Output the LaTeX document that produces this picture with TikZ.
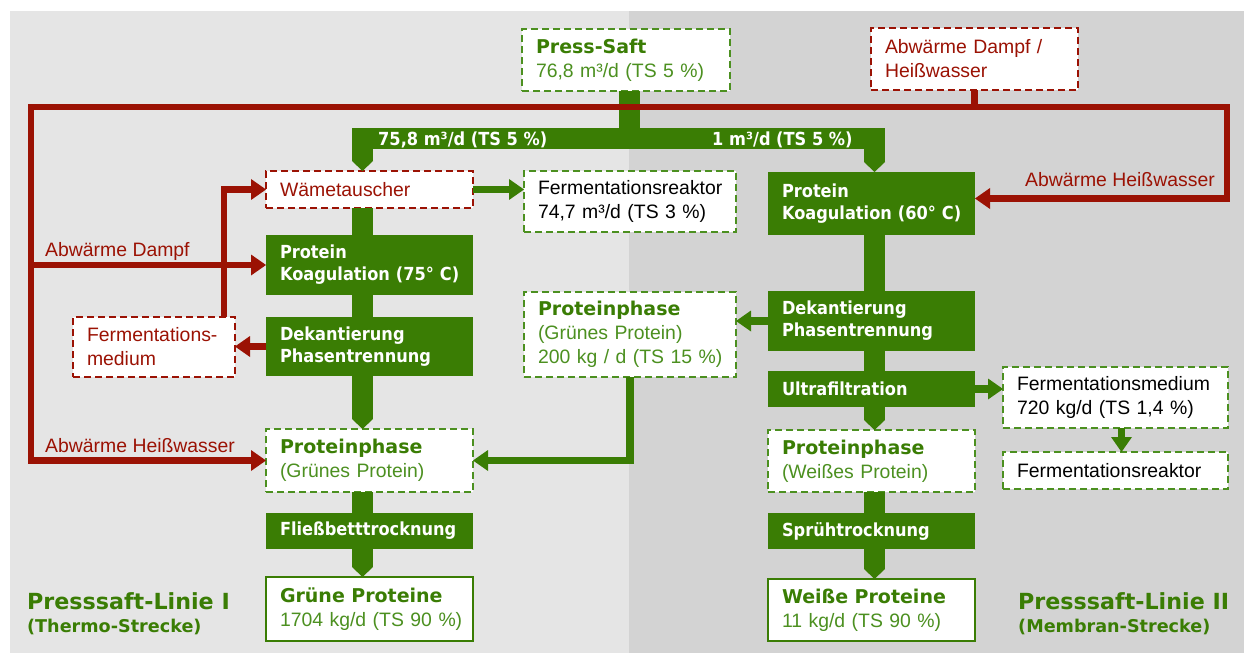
\documentclass[tikz,border=0pt]{standalone}
\usepackage{fontspec}
\setmainfont{Liberation Sans}
\newfontfamily\dejavu{DejaVu Sans}
\newfontfamily\dejavunarrow{DejaVu Sans}[FakeStretch=0.9]
\usetikzlibrary{arrows.meta}

\definecolor{procgreen}{HTML}{3A7D04}
\definecolor{textgreen}{HTML}{4C9020}
\definecolor{heatred}{HTML}{9B1204}
\definecolor{panelleft}{HTML}{E5E5E5}
\definecolor{panelright}{HTML}{D3D3D3}

\newcommand{\procfont}{\dejavunarrow\bfseries\fontsize{18}{22}\selectfont}
\newcommand{\headfont}{\dejavu\bfseries\fontsize{19}{24}\selectfont}
\newcommand{\plainfont}{\fontsize{19.4}{24}\selectfont}
\hyphenpenalty=10000

\tikzset{
  box/.style={anchor=north west, inner xsep=4pt, inner ysep=0pt, outer sep=0pt,
    align=left, execute at begin node={\leftskip=10pt\relax}},
  boxsize/.style 2 args={minimum width=#1, minimum height=#2, text width=#1-8},
  procbox/.style={box, fill=procgreen, text=white, font=\procfont},
  flowbox/.style={box, fill=white, draw=textgreen, line width=2.5pt,
    dash pattern=on 7pt off 4pt, font=\plainfont},
  greenbox/.style={flowbox, text=textgreen},
  heatbox/.style={box, fill=white, draw=heatred, line width=2.5pt,
    dash pattern=on 7pt off 4pt, text=heatred, font=\plainfont},
  endbox/.style={box, fill=white, draw=procgreen, line width=2.5pt,
    text=textgreen, font=\plainfont},
  shaft/.style={draw=procgreen, line width=21pt},
  shafttip/.style={-{Triangle[length=10pt, width=21pt, line width=0pt]}},
  thinflow/.style={draw=procgreen, line width=7.5pt,
    -{Triangle[length=15pt, width=21pt, line width=0pt]}},
  heatline/.style={draw=heatred, line width=6.5pt},
  heattip/.style={-{Triangle[length=15pt, width=21pt, line width=0pt]}},
  barlabel/.style={font=\procfont, text=white, inner sep=0pt, anchor=base west},
  heatlabel/.style={font=\plainfont, text=heatred, inner sep=0pt},
  linetitle/.style={font=\dejavu\bfseries\fontsize{22.2}{26}\selectfont,
    text=procgreen, inner sep=0pt, anchor=base west},
  subtitle/.style={font=\dejavu\bfseries\fontsize{17.6}{22}\selectfont,
    text=procgreen, inner sep=0pt, anchor=base west}
}

\begin{document}
\begin{tikzpicture}[x=1pt, y=-1pt]
    % Background panels of the two lines
    \fill[white] (0,0) rectangle (1244,655);
    \fill[panelleft] (10,11) rectangle (629,653);
    \fill[panelright] (629,11) rectangle (1244,653);
    \useasboundingbox (0,0) rectangle (1244,655);

    % Define columns of the main flow and the split point
    \coordinate (colI) at (362.5,0);
    \coordinate (colII) at (874.5,0);
    \coordinate (split) at (629.5,139);

    % Define corners of the waste heat loop
    \coordinate (loopL) at (31,107);
    \coordinate (loopR) at (1227,107);

    % Top row
    \node[greenbox, boxsize={208}{62}] (press) at (522,29)
        {{\headfont\color{procgreen}Press-Saft}\\76,8 m³/d (TS 5 \%)};
    \node[heatbox, boxsize={207}{62}] (waste) at (871,28)
        {Abwärme Dampf /\\Heißwasser};

    % Line I (thermo)
    \node[heatbox, boxsize={207}{37}] (exch) at (266,171) {Wämetauscher};
    \node[procbox, boxsize={207}{60}] (coagI) at (266,235) {Protein\\Koagulation (75° C)};
    \node[procbox, boxsize={207}{59}] (decI) at (266,317) {Dekantierung\\Phasentrennung};
    \node[heatbox, boxsize={162}{60}] (medI) at (73,317) {Fermentations-\\medium};
    \node[greenbox, boxsize={207}{63}] (phaseI) at (266,429)
        {{\headfont\color{procgreen}Proteinphase}\\(Grünes Protein)};
    \node[procbox, boxsize={207}{36}] (dryI) at (266,513) {Fließbetttrocknung};
    \node[endbox, boxsize={207}{64}] (prodI) at (266,577)
        {{\headfont\color{procgreen}Grüne Proteine}\\1704 kg/d (TS 90 \%)};

    % Middle column
    \node[flowbox, boxsize={212}{61}] (reactI) at (524,171)
        {Fermentationsreaktor\\74,7 m³/d (TS 3 \%)};
    \node[greenbox, boxsize={212}{85}] (phaseM) at (524,292)
        {{\headfont\color{procgreen}Proteinphase}\\(Grünes Protein)\\200 kg / d (TS 15 \%)};

    % Line II (membrane)
    \node[procbox, boxsize={207}{63}] (coagII) at (768,172) {Protein\\Koagulation (60° C)};
    \node[procbox, boxsize={207}{60}] (decII) at (768,291) {Dekantierung\\Phasentrennung};
    \node[procbox, boxsize={207}{36}] (ultra) at (768,371) {Ultrafiltration};
    \node[flowbox, boxsize={225}{61}] (medII) at (1003,367)
        {Fermentationsmedium\\720 kg/d (TS 1,4 \%)};
    \node[flowbox, boxsize={225}{37}] (reactII) at (1003,452) {Fermentationsreaktor};
    \node[greenbox, boxsize={207}{62}] (phaseII) at (768,430)
        {{\headfont\color{procgreen}Proteinphase}\\(Weißes Protein)};
    \node[procbox, boxsize={207}{36}] (dryII) at (768,513) {Sprühtrocknung};
    \node[endbox, boxsize={207}{62}] (prodII) at (768,579)
        {{\headfont\color{procgreen}Weiße Proteine}\\11 kg/d (TS 90 \%)};

    % Main flow: trunk and split bar
    \draw[shaft] (press.south -| split) -- (split);
    \draw[shaft, shafttip] (split) -| (exch.north -| colI);
    \draw[shaft, shafttip] (split) -| (coagII.north -| colII);
    \node[barlabel] (flowI) at (378,146) {75,8 m³/d (TS 5 \%)};
    \node[barlabel] (flowII) at (712,146) {1 m³/d (TS 5 \%)};

    % Main flow of line I
    \draw[shaft] (exch.south -| colI) -- (coagI.north -| colI);
    \draw[shaft] (coagI.south -| colI) -- (decI.north -| colI);
    \draw[shaft, shafttip] (decI.south -| colI) -- (phaseI.north -| colI);
    \draw[shaft] (phaseI.south -| colI) -- (dryI.north -| colI);
    \draw[shaft, shafttip] (dryI.south -| colI) -- (prodI.north -| colI);

    % Main flow of line II
    \draw[shaft] (coagII.south -| colII) -- (decII.north -| colII);
    \draw[shaft] (decII.south -| colII) -- (ultra.north -| colII);
    \draw[shaft, shafttip] (ultra.south -| colII) -- (phaseII.north -| colII);
    \draw[shaft] (phaseII.south -| colII) -- (dryII.north -| colII);
    \draw[shaft, shafttip] (dryII.south -| colII) -- (prodII.north -| colII);

    % Side flows
    \draw[thinflow] (exch.east) -- (reactI.west |- exch.east);
    \draw[thinflow] (decII.west) -- (phaseM.east |- decII.west);
    \draw[thinflow] (phaseM.south) |- (phaseI.east);
    \draw[thinflow] (ultra.east) -- (medII.west |- ultra.east);
    \draw[thinflow] ([xshift=6pt]medII.south) -- ([xshift=6pt]reactII.north);

    % Waste heat loop
    \draw[heatline] (waste.south) -- (waste.south |- loopL);
    \draw[heatline, heattip] (loopL) -- (loopR) |- ([yshift=5pt]coagII.east);
    \draw[heatline, heattip] (loopR) -- (loopL) |- (phaseI.west);
    \draw[heatline, heattip] (loopL |- coagI.west) -- (coagI.west);
    \draw[heatline, heattip] (decI.west) -- (medI.east |- decI.west);
    \draw[heatline, heattip] ([xshift=-11pt]medI.north east) |- (exch.west);

    % Labels of the heat flows
    \node[heatlabel, anchor=base west] (steamlbl) at (45,256) {Abwärme Dampf};
    \node[heatlabel, anchor=base west] (waterlblI) at (45,452) {Abwärme Heißwasser};
    \node[heatlabel, anchor=base east] (waterlblII) at (1215,187) {Abwärme Heißwasser};

    % Titles of the two lines
    \node[linetitle] (titleI) at (27,609) {Presssaft-Linie I};
    \node[subtitle] (subI) at (27,632) {(Thermo-Strecke)};
    \node[linetitle] (titleII) at (1018,609) {Presssaft-Linie II};
    \node[subtitle] (subII) at (1018,632) {(Membran-Strecke)};

\end{tikzpicture}
\end{document}
